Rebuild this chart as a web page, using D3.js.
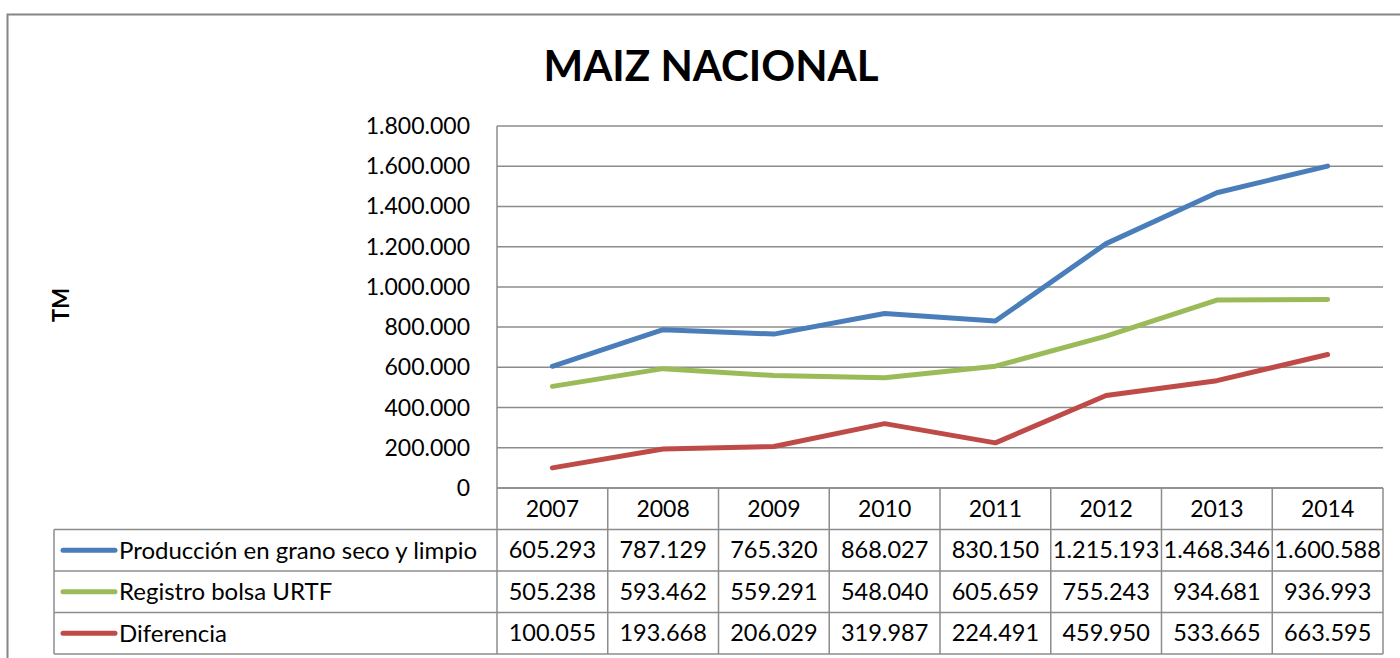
<!DOCTYPE html>
<html>
<head>
<meta charset="utf-8">
<script src="https://cdn.jsdelivr.net/npm/d3@7"></script>
<style>
  body { margin: 0; background: #fff; }
  text { font-family: Lato, "Open Sans", sans-serif; fill: #000; }
</style>
</head>
<body>
<script>

// data
var years = ["2007", "2008", "2009", "2010", "2011", "2012", "2013", "2014"];
var produccion = [605293, 787129, 765320, 868027, 830150, 1215193, 1468346, 1600588];
var registro = [505238, 593462, 559291, 548040, 605659, 755243, 934681, 936993];
var diferencia = [100055, 193668, 206029, 319987, 224491, 459950, 533665, 663595];
var seriesNames = ["Producción en grano seco y limpio", "Registro bolsa URTF", "Diferencia"];
var seriesColors = ["#4a7ebb", "#9bbb59", "#be4b48"];
var yTicks = [0, 200000, 400000, 600000, 800000, 1000000, 1200000, 1400000, 1600000, 1800000];

var series = [produccion, registro, diferencia];

var width = 1400, height = 658;
var plot = {left: 497, right: 1383, top: 126, bottom: 488};
var rowH = 41.5;
var tableLeft = 54;

var svg = d3.select("body")
.append("svg")
.attr("width", width)
.attr("height", height);

// outer frame
svg.append("rect")
.attr("x", 7.5).attr("y", 14.5)
.attr("width", 1400).attr("height", 700)
.attr("fill", "none")
.attr("stroke", "#868686")
.attr("stroke-width", 2);

var xScale = d3.scaleBand()
.domain(years)
.range([plot.left, plot.right]);

var yScale = d3.scaleLinear()
.domain([0, 1800000])
.range([plot.bottom, plot.top]);

var fmt = function(v){
    return d3.format(",")(v).replace(/,/g, ".");
};

// title
svg.append("text")
.attr("x", 711).attr("y", 81)
.attr("text-anchor", "middle")
.attr("font-size", 42)
.attr("font-weight", "bold")
.text("MAIZ NACIONAL");

// y axis title
svg.append("text")
.attr("transform", "translate(69,305) rotate(-90)")
.attr("text-anchor", "middle")
.attr("font-size", 22)
.attr("font-weight", "bold")
.text("TM");

// gridlines
svg.append("g")
.selectAll("line")
.data(yTicks)
.join("line")
.attr("x1", plot.left).attr("x2", plot.right)
.attr("y1", d => yScale(d)).attr("y2", d => yScale(d))
.attr("stroke", "#8c8c8c")
.attr("stroke-width", 1.5);

// y tick labels
svg.append("g")
.selectAll("text")
.data(yTicks)
.join("text")
.attr("x", 470)
.attr("y", d => yScale(d))
.attr("dy", "0.35em")
.attr("text-anchor", "end")
.attr("font-size", 23)
.text(d => fmt(d));

// left axis line
svg.append("line")
.attr("x1", plot.left).attr("x2", plot.left)
.attr("y1", plot.top).attr("y2", plot.bottom)
.attr("stroke", "#8c8c8c")
.attr("stroke-width", 1.5);

// series lines
var line = d3.line()
.x((d, i) => xScale(years[i]) + xScale.bandwidth() / 2)
.y(d => yScale(d));

series.forEach((s, k) => {
    svg.append("path")
    .datum(s)
    .attr("d", line)
    .attr("fill", "none")
    .attr("stroke", seriesColors[k])
    .attr("stroke-width", 5)
    .attr("stroke-linecap", "round")
    .attr("stroke-linejoin", "round");
});

// data table
var table = svg.append("g");
var tableBottom = plot.bottom + rowH * 4;
var gridColor = "#8c8c8c";

// horizontal rules
for (let r = 0; r <= 4; r++){
    let y = plot.bottom + rowH * r;
    table.append("line")
    .attr("x1", r === 0 ? plot.left : tableLeft)
    .attr("x2", plot.right)
    .attr("y1", y).attr("y2", y)
    .attr("stroke", gridColor).attr("stroke-width", 1.5);
}

// vertical rules
var vx = years.map(y => xScale(y)).concat([plot.right]);
vx.forEach(x => {
    table.append("line")
    .attr("x1", x).attr("x2", x)
    .attr("y1", plot.bottom).attr("y2", tableBottom)
    .attr("stroke", gridColor).attr("stroke-width", 1.5);
});
table.append("line")
.attr("x1", tableLeft).attr("x2", tableLeft)
.attr("y1", plot.bottom + rowH).attr("y2", tableBottom)
.attr("stroke", gridColor).attr("stroke-width", 1.5);

// year header
table.selectAll(".yr")
.data(years)
.join("text")
.attr("x", d => xScale(d) + xScale.bandwidth() / 2)
.attr("y", plot.bottom + rowH / 2)
.attr("dy", "0.35em")
.attr("text-anchor", "middle")
.attr("font-size", 23)
.text(d => d);

// rows
series.forEach((s, k) => {
    let cy = plot.bottom + rowH * (k + 1) + rowH / 2;
    table.append("line")
    .attr("x1", 63).attr("x2", 115)
    .attr("y1", cy).attr("y2", cy)
    .attr("stroke", seriesColors[k])
    .attr("stroke-width", 5)
    .attr("stroke-linecap", "round");
    table.append("text")
    .attr("x", 119).attr("y", cy)
    .attr("dy", "0.35em")
    .attr("font-size", 24)
    .text(seriesNames[k]);
    table.selectAll(".v" + k)
    .data(s)
    .join("text")
    .attr("x", (d, i) => xScale(years[i]) + xScale.bandwidth() / 2)
    .attr("y", cy)
    .attr("dy", "0.35em")
    .attr("text-anchor", "middle")
    .attr("font-size", 23.5)
    .text(d => fmt(d));
});

</script>
</body>
</html>
